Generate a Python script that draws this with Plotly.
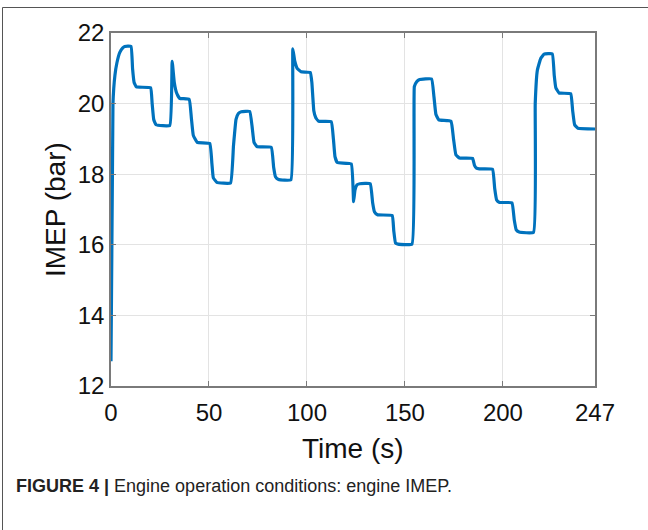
import plotly.graph_objects as go

time_s = [0, 1.0, 2.0, 3.0, 4.5, 6, 7, 10.2, 11.0, 11.8, 13, 20.2, 21, 21.8, 23, 30,
          31.2, 32.3, 33.5, 35, 39.9, 41.0, 42, 44, 50.4, 51.5, 52.2, 54, 61, 62.5, 63.8,
          65, 66.5, 70.8, 72, 73, 74.5, 81.8, 83, 84, 85.5, 91.8, 92.8, 93.8, 95, 97,
          101.7, 102.5, 103.5, 104.5, 106, 112.4, 113.5, 114.3, 115.5, 122.6, 123.8,
          124.5, 125.5, 127, 132.3, 133.5, 134.5, 136, 143.5, 144.3, 145.2, 146.5,
          153.6, 154.8, 156, 157.5, 163.6, 164.8, 165.8, 167.3, 173.5, 174.8, 176,
          177.8, 184.5, 185.5, 186.5, 188, 194.7, 195.8, 196.8, 198.3, 204.6, 205.8,
          206.8, 208.3, 215.6, 216.5, 217.6, 219.3, 221, 225.2, 226.2, 227, 228.7,
          234.6, 235.6, 236.6, 238.3, 247]
imep_bar = [12.7, 20.0, 20.8, 21.15, 21.45, 21.58, 21.62, 21.62, 21.0, 20.6, 20.47, 20.45,
            20.0, 19.55, 19.4, 19.38, 21.2, 20.6, 20.3, 20.15, 20.12, 19.6, 19.1, 18.9,
            18.87, 18.3, 17.9, 17.77, 17.75, 18.8, 19.55, 19.72, 19.77, 19.78, 19.35,
            18.9, 18.78, 18.76, 18.2, 17.92, 17.85, 17.84, 21.55, 21.2, 21.0, 20.9,
            20.88, 20.6, 19.8, 19.6, 19.5, 19.49, 19.0, 18.5, 18.33, 18.29, 17.22,
            17.55, 17.7, 17.73, 17.73, 17.2, 16.93, 16.85, 16.83, 16.4, 16.05, 16.02,
            16.02, 20.48, 20.62, 20.68, 20.7, 20.2, 19.7, 19.54, 19.5, 19.0, 18.55,
            18.46, 18.45, 18.25, 18.17, 18.15, 18.14, 17.6, 17.27, 17.2, 17.19, 16.7,
            16.42, 16.36, 16.35, 20.0, 20.95, 21.28, 21.4, 21.41, 20.8, 20.45, 20.3,
            20.28, 19.8, 19.4, 19.3, 19.28]

x_ticks = [0, 50, 100, 150, 200, 247]
y_ticks = [12, 14, 16, 18, 20, 22]

FONT = "Liberation Sans, Arial, sans-serif"
AX = "#7a7a7a"
GRID = "#e3e3e3"

fig = go.Figure()
fig.add_trace(go.Scatter(x=time_s, y=imep_bar, mode="lines",
                         line=dict(color="#0072BD", width=3.2, shape="spline", smoothing=0.3),
                         showlegend=False, hoverinfo="skip"))

W, H = 648, 530
L, R, T, B = 111, 53, 33, 144
pw, ph = W - L - R, H - T - B

def px(xp):
    return (xp - L) / pw

def py(yp):
    return (H - B - yp) / ph

fig.update_layout(
    width=W, height=H,
    margin=dict(l=L, r=R, t=T, b=B),
    paper_bgcolor="white", plot_bgcolor="white",
    font=dict(family=FONT, color="#000000"),
    xaxis=dict(range=[0, 247], tickvals=x_ticks, ticktext=[str(v) for v in x_ticks],
               showgrid=True, gridcolor=GRID, gridwidth=1, zeroline=False,
               showline=True, linecolor=AX, linewidth=1.5, mirror="ticks",
               ticks="inside", ticklen=5, tickcolor=AX, tickwidth=1,
               ticklabelstandoff=4,
               tickfont=dict(size=24, family=FONT, color="#111")),
    yaxis=dict(range=[12, 22], tickvals=y_ticks, ticktext=[str(v) for v in y_ticks],
               showgrid=True, gridcolor=GRID, gridwidth=1, zeroline=False,
               showline=True, linecolor=AX, linewidth=1.5, mirror="ticks",
               ticks="inside", ticklen=5, tickcolor=AX, tickwidth=1,
               tickfont=dict(size=24, family=FONT, color="#111")),
)

annotations = [
    dict(text="Time (s)", x=px(353), y=py(448), xref="paper", yref="paper",
         showarrow=False, font=dict(size=28, family=FONT, color="#111"),
         xanchor="center", yanchor="middle"),
    dict(text="IMEP (bar)", x=px(55), y=py(210), xref="paper", yref="paper",
         showarrow=False, textangle=-90, font=dict(size=28, family=FONT, color="#111"),
         xanchor="center", yanchor="middle"),
    dict(text="<b>FIGURE 4 |</b> Engine operation conditions: engine IMEP.",
         x=px(14), y=py(486), xref="paper", yref="paper", showarrow=False,
         font=dict(size=18, family=FONT, color="#222"),
         xanchor="left", yanchor="middle"),
]
fig.update_layout(annotations=annotations)

fig.add_shape(type="line", xref="paper", yref="paper", x0=px(2.5), x1=px(648),
              y0=py(7.5), y1=py(7.5), line=dict(color="#555555", width=1))
fig.add_shape(type="line", xref="paper", yref="paper", x0=px(2.5), x1=px(2.5),
              y0=py(7.5), y1=py(530), line=dict(color="#555555", width=1))

fig.write_html("out.html")
